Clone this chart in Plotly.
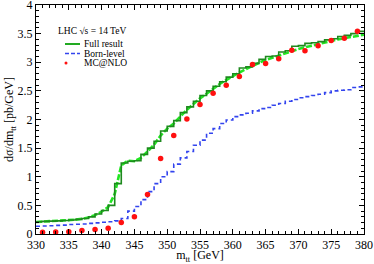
import plotly.graph_objects as go

# bins (left edges, 1 GeV wide)
bin_edges = list(range(330, 381))
full_result = [0.215, 0.22, 0.225, 0.23, 0.235, 0.245, 0.255, 0.27, 0.30, 0.35,
               0.41, 0.50, 0.88, 1.24, 1.27, 1.28, 1.39, 1.50, 1.62, 1.80,
               1.88, 1.98, 2.12, 2.22, 2.32, 2.42, 2.50, 2.58, 2.66, 2.74,
               2.80, 2.90, 2.92, 2.98, 3.05, 3.10, 3.11, 3.18, 3.20, 3.28,
               3.29, 3.33, 3.34, 3.36, 3.39, 3.41, 3.45, 3.47, 3.50, 3.54]
born_level = [0.135, 0.14, 0.145, 0.15, 0.155, 0.165, 0.17, 0.175, 0.185, 0.195,
              0.205, 0.215, 0.23, 0.27, 0.40, 0.48, 0.60, 0.74, 0.88, 1.00,
              1.09, 1.22, 1.33, 1.44, 1.55, 1.64, 1.76, 1.84, 1.93, 1.99,
              2.05, 2.08, 2.11, 2.15, 2.19, 2.21, 2.25, 2.28, 2.32, 2.35,
              2.38, 2.40, 2.42, 2.44, 2.47, 2.50, 2.51, 2.52, 2.56, 2.57]
# smooth full result (finer curve)
smooth_m = list(range(330, 381))
smooth_full = [0.21, 0.215, 0.22, 0.225, 0.235, 0.24, 0.25, 0.265, 0.29, 0.33,
               0.39, 0.47, 0.70, 1.20, 1.28, 1.27, 1.33, 1.44, 1.56, 1.72,
               1.84, 1.93, 2.05, 2.17, 2.27, 2.37, 2.45, 2.54, 2.62, 2.69,
               2.76, 2.82, 2.88, 2.94, 2.99, 3.04, 3.08, 3.12, 3.16, 3.20,
               3.23, 3.26, 3.29, 3.32, 3.35, 3.37, 3.40, 3.42, 3.44, 3.46, 3.48]
# MC@NLO points
mc_m = list(range(331, 381, 2))
mc_nlo = [0.03, 0.035, 0.04, 0.06, 0.08, 0.10, 0.20, 0.30, 0.69, 1.32,
          1.72, 2.01, 2.26, 2.46, 2.60, 2.75, 2.96, 2.98, 3.06, 3.21,
          3.20, 3.29, 3.38, 3.42, 3.54]

x_ticks = [330, 335, 340, 345, 350, 355, 360, 365, 370, 375, 380]
y_ticks = [0, 0.5, 1, 1.5, 2, 2.5, 3, 3.5, 4]

DARK_GREEN = "#1e8a1e"
LIGHT_GREEN = "#22e622"
BLUE = "#3344ee"
RED = "#ff1010"
FONT = "Liberation Serif"

fig = go.Figure()
fig.add_trace(go.Scatter(x=smooth_m, y=smooth_full, mode="lines",
                         line=dict(color=LIGHT_GREEN, width=2.6, dash="6px,2px"),
                         showlegend=False))
fig.add_trace(go.Scatter(x=bin_edges, y=full_result + [full_result[-1]], mode="lines",
                         line=dict(color=DARK_GREEN, width=1.6, shape="hv"),
                         showlegend=False))
fig.add_trace(go.Scatter(x=bin_edges, y=born_level + [born_level[-1]], mode="lines",
                         line=dict(color=BLUE, width=1.6, shape="hv", dash="4px,3px"),
                         showlegend=False))
fig.add_trace(go.Scatter(x=mc_m, y=mc_nlo, mode="markers",
                         marker=dict(color=RED, size=5.5),
                         showlegend=False))

# manual legend
def px2paper_x(px):
    return (px - 36) / 328

def px2paper_y(py):
    return (234 - py) / 229

fig.add_annotation(x=px2paper_x(56), y=px2paper_y(31), xref="paper", yref="paper",
                   text="LHC √s = 14 TeV", showarrow=False, xanchor="left", yanchor="middle",
                   font=dict(family=FONT, size=9.5, color="black"))
items = [("Full result", 44), ("Born-level", 53.5), ("MC@NLO", 63)]
for label, py in items:
    fig.add_annotation(x=px2paper_x(82), y=px2paper_y(py), xref="paper", yref="paper",
                       text=label, showarrow=False, xanchor="left", yanchor="middle",
                       font=dict(family=FONT, size=9.5, color="black"))
fig.add_shape(type="line", xref="paper", yref="paper",
              x0=px2paper_x(65), x1=px2paper_x(80), y0=px2paper_y(44), y1=px2paper_y(44),
              line=dict(color="#22aa22", width=2))
fig.add_shape(type="line", xref="paper", yref="paper",
              x0=px2paper_x(65), x1=px2paper_x(80), y0=px2paper_y(53.5), y1=px2paper_y(53.5),
              line=dict(color=BLUE, width=1.6, dash="4px,2px"))
fig.add_shape(type="circle", xref="paper", yref="paper",
              x0=px2paper_x(64.5), x1=px2paper_x(67.5), y0=px2paper_y(64.5), y1=px2paper_y(61.5),
              line=dict(color=RED, width=0), fillcolor=RED)

axis_common = dict(showline=True, linecolor="black", linewidth=1, mirror="ticks",
                   ticks="inside", ticklen=5, tickcolor="black", showgrid=False,
                   zeroline=False, automargin=False, ticklabeloverflow="allow",
                   tickfont=dict(family=FONT, size=12, color="black"))
fig.update_xaxes(range=[330, 380], tickvals=x_ticks,
                 minor=dict(ticks="inside", ticklen=3, dtick=1, tickcolor="black", showgrid=False),
                 title=dict(text="m<sub>tt</sub> [GeV]", font=dict(family=FONT, size=12, color="black"),
                            standoff=0),
                 **axis_common)
fig.update_yaxes(range=[0, 4], tickvals=y_ticks,
                 minor=dict(ticks="inside", ticklen=3, dtick=0.1, tickcolor="black", showgrid=False),
                 title=dict(text="dσ/dm<sub>tt</sub> [pb/GeV]", font=dict(family=FONT, size=12, color="black"),
                            standoff=0),
                 **axis_common)
fig.update_layout(width=374, height=264, margin=dict(l=36, r=10, t=5, b=30),
                  paper_bgcolor="white", plot_bgcolor="white", showlegend=False)
fig.write_html("out.html", config={"displayModeBar": False},
               post_script="document.body.style.margin='0';document.body.style.padding='0';")
